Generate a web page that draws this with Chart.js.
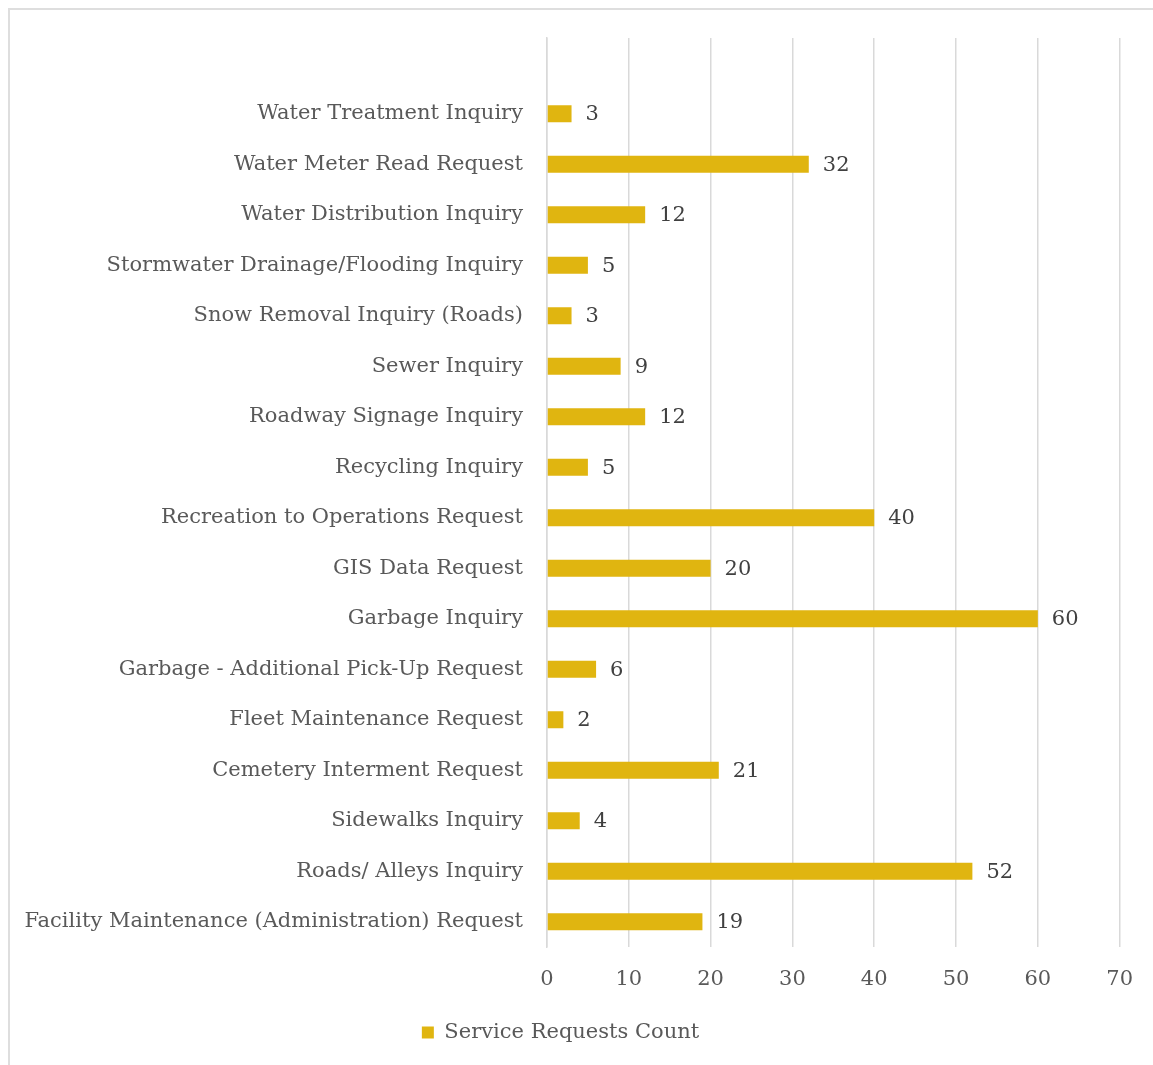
<!DOCTYPE html>
<html>
<head>
<meta charset="utf-8">
<script src="https://cdn.jsdelivr.net/npm/chart.js@4.4.0/dist/chart.umd.min.js"></script>
<style>
    html, body { margin: 0; padding: 0; background: #fff; }
    #frame {
        position: absolute; left: 8px; top: 8px; right: 0; bottom: 0;
        border-top: 2px solid #dedede; border-left: 2px solid #dedede;
    }
    #wrap { position: absolute; left: 0; top: 0; width: 1153px; height: 1065px; }
</style>
</head>
<body>
<div id="frame"></div>
<div id="wrap"><canvas id="requestsChart"></canvas></div>
<script>
// --- Data ---
const categories = [
    'Water Treatment Inquiry',
    'Water Meter Read Request',
    'Water Distribution Inquiry',
    'Stormwater Drainage/Flooding Inquiry',
    'Snow Removal Inquiry (Roads)',
    'Sewer Inquiry',
    'Roadway Signage Inquiry',
    'Recycling Inquiry',
    'Recreation to Operations Request',
    'GIS Data Request',
    'Garbage Inquiry',
    'Garbage - Additional Pick-Up Request',
    'Fleet Maintenance Request',
    'Cemetery Interment Request',
    'Sidewalks Inquiry',
    'Roads/ Alleys Inquiry',
    'Facility Maintenance (Administration) Request'
];
const requestCounts = [3, 32, 12, 5, 3, 9, 12, 5, 40, 20, 60, 6, 2, 21, 4, 52, 19];
const xTicks = [0, 10, 20, 30, 40, 50, 60, 70];
const seriesName = 'Service Requests Count';

document.addEventListener('DOMContentLoaded', () => {
    const FONT = "'DejaVu Serif', serif";
    const SIZE = 21;
    const GOLD = '#E0B510';
    const GRID = '#d9d9d9';

    // value labels at the bar ends
    const valueLabels = {
        id: 'valueLabels',
        afterDatasetsDraw(chart) {
            const { ctx } = chart;
            const meta = chart.getDatasetMeta(0);
            ctx.save();
            ctx.font = `${SIZE}px ${FONT}`;
            ctx.fillStyle = '#404040';
            ctx.textAlign = 'left';
            ctx.textBaseline = 'middle';
            meta.data.forEach((bar, i) => {
                const v = chart.data.datasets[0].data[i];
                if (v === null || v === undefined) return;
                ctx.fillText(String(v), bar.x + 14, bar.y + 1);
            });
            ctx.restore();
        }
    };

    const ctx = document.getElementById('requestsChart').getContext('2d');
    new Chart(ctx, {
        type: 'bar',
        data: {
            // leading blank row mirrors the empty band above the first bar
            labels: [''].concat(categories),
            datasets: [{
                label: seriesName,
                data: [null].concat(requestCounts),
                backgroundColor: GOLD,
                borderWidth: 0,
                barPercentage: 0.34,
                categoryPercentage: 1
            }]
        },
        options: {
            indexAxis: 'y',
            responsive: true,
            maintainAspectRatio: false,
            animation: false,
            layout: { padding: { top: 38, right: 32, bottom: 12, left: 0 } },
            scales: {
                x: {
                    min: 0, max: 70,
                    afterBuildTicks: (scale) => { scale.ticks = xTicks.map(v => ({ value: v })); },
                    grid: { color: GRID, lineWidth: 1.5, drawTicks: false },
                    border: { display: false },
                    ticks: { color: '#595959', font: { family: FONT, size: SIZE }, padding: 20 },
                    afterFit: (scale) => { scale.height = 61; }
                },
                y: {
                    grid: { display: false },
                    border: { display: true, color: GRID, width: 1.5 },
                    ticks: { color: '#595959', font: { family: FONT, size: SIZE }, padding: 16, autoSkip: false },
                    afterFit: (scale) => { scale.width = 547; }
                }
            },
            plugins: {
                legend: {
                    position: 'bottom',
                    labels: {
                        color: '#595959',
                        font: { family: FONT, size: SIZE },
                        boxWidth: 12, boxHeight: 12,
                        padding: 14
                    }
                },
                tooltip: { enabled: false }
            }
        },
        plugins: [valueLabels]
    });
});
</script>
</body>
</html>
